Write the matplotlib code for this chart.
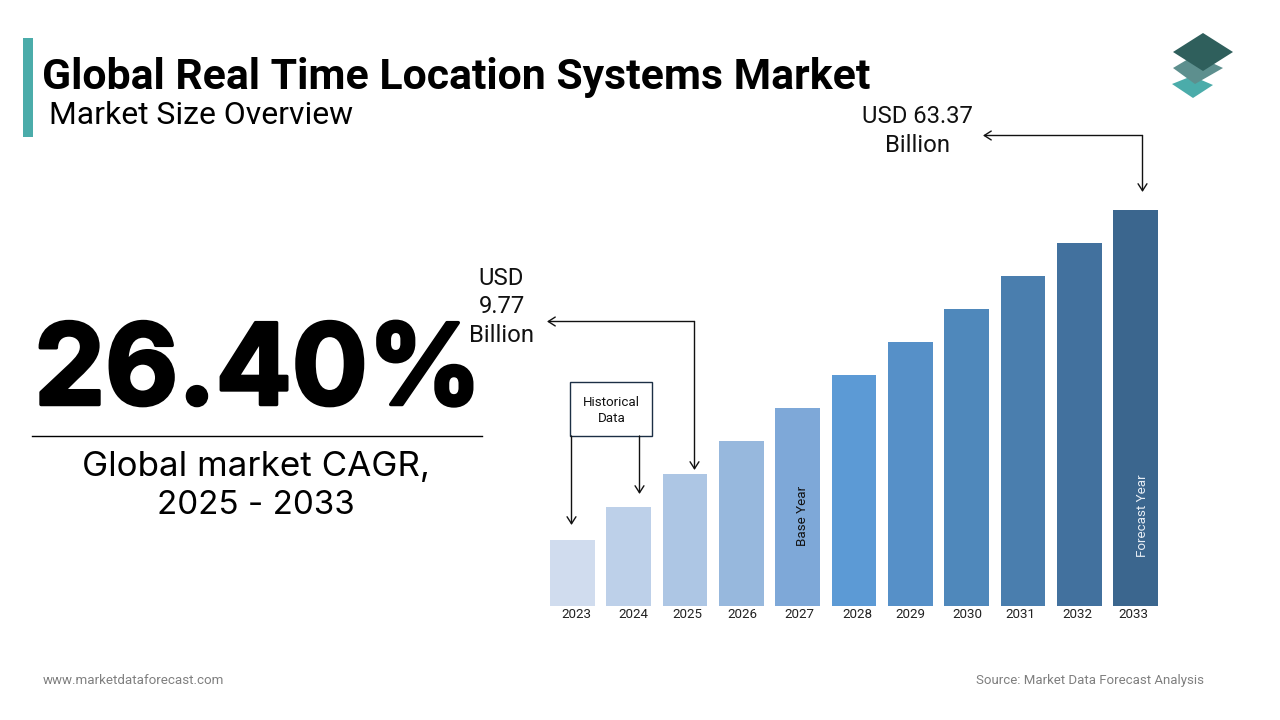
import matplotlib
matplotlib.use("Agg")
import matplotlib.pyplot as plt
from matplotlib.patches import Polygon, Rectangle
import matplotlib.patheffects as pe

plt.rcParams['font.family'] = ['Roboto', 'DejaVu Sans']

years = ['2023','2024','2025','2026','2027','2028','2029','2030','2031','2032','2033']
bar_values = [66, 99, 132, 165, 198, 231, 264, 297, 330, 363, 396]
bar_colors = ['#d0dcee','#bdd0e9','#adc6e4','#97b8dd','#7ea8d8','#5c9ad5',
              '#5690c8','#4f88bb','#4a7eae','#42719e','#3b668e']
label_offsets_px = [4.5, 5, 2, 1.5, 2, 3, 0, 0.5, -3, -2, -2.5]

fig = plt.figure(figsize=(12.8, 7.2), dpi=100, facecolor='white')

ov = fig.add_axes([0, 0, 1, 1], zorder=3)
ov.set_xlim(0, 1280); ov.set_ylim(720, 0); ov.axis('off')
ov.patch.set_alpha(0)

L, R, T, B = 550, 1158, 210, 606
ax = fig.add_axes([L/1280, 1-B/720, (R-L)/1280, (B-T)/720], zorder=2)
x = list(range(len(years)))
ax.bar(x, bar_values, width=0.79, color=bar_colors, linewidth=0)
ax.set_xlim(-0.395, 10.395)
ax.set_ylim(0, 396)
ax.axis('off')
for xi, y, off in zip(x, years, label_offsets_px):
    ax.annotate(y, (xi, 0), xytext=(off*0.72, -8*0.72), textcoords='offset points',
                ha='center', va='center', fontsize=9.6, color='#222222', annotation_clip=False)

# header
ov.add_patch(Rectangle((23, 38), 10, 99, color='#4bacaa', lw=0))
ov.text(42, 77, 'Global Real Time Location Systems Market', fontsize=30.74, fontweight='bold',
        va='center', ha='left', color='#000000')
ov.text(49, 115, 'Market Size Overview', fontsize=22.95, va='center', ha='left', color='#000000')

# left panel
ov.text(258, 375, '26.40%', fontsize=81, fontweight='bold', ha='center', va='center',
        color='#000000', family=['Inter', 'DejaVu Sans'],
        path_effects=[pe.withStroke(linewidth=2.5, foreground='black')])
ov.plot([32, 482], [436, 436], color='#000000', lw=1)
ov.text(256.5, 467, 'Global market CAGR,', fontsize=25.2, ha='center', va='center', family=['Inter','DejaVu Sans'])
ov.text(256, 506, '2025 - 2033', fontsize=23.9, ha='center', va='center', family=['Inter','DejaVu Sans'])

# footer
ov.text(43, 680, 'www.marketdataforecast.com', fontsize=9.67, color='#7f7f7f', ha='left', va='center')
ov.text(1204, 680.6, 'Source: Market Data Forecast Analysis', fontsize=9.58, color='#7f7f7f', ha='right', va='center')

# callouts
ov.text(917.5, 116.5, 'USD 63.37', fontsize=17.2, ha='center', va='center', color='#111111')
ov.text(917.5, 145.5, 'Billion', fontsize=17.2, ha='center', va='center', color='#111111')
ov.text(501.5, 278.5, 'USD', fontsize=17.2, ha='center', va='center', color='#111111')
ov.text(501.5, 306.5, '9.77', fontsize=17.2, ha='center', va='center', color='#111111')
ov.text(501.5, 335.5, 'Billion', fontsize=17.2, ha='center', va='center', color='#111111')

HEAD = dict(arrowstyle='->,head_length=0.5,head_width=0.32', color='#111111', lw=1, shrinkA=0, shrinkB=0)

def arrow(a, b):
    ov.annotate('', xy=b, xytext=a, arrowprops=HEAD)

arrow((1142.5, 135.5), (983, 135.5))
arrow((1142.5, 135.5), (1142.5, 192))
arrow((694.5, 321.5), (547, 321.5))
arrow((694.5, 321.5), (694.5, 470))

# historical box
ov.add_patch(Rectangle((570, 382), 82, 54, facecolor='white', edgecolor='#1c2f45', lw=1))
ov.text(611.5, 403, 'Historical', fontsize=9.6, ha='center', va='center', color='#111111')
ov.text(611.5, 418, 'Data', fontsize=9.6, ha='center', va='center', color='#111111')
arrow((571.5, 436), (571.5, 525))
arrow((639.5, 436), (639.5, 494))

# vertical bar captions
ov.text(803, 516, 'Base Year', rotation=90, fontsize=9.6, ha='center', va='center', color='#111111')
ov.text(1142, 515.5, 'Forecast Year', rotation=90, fontsize=9.6, ha='center', va='center', color='#e8eef5')

# logo
ov.add_patch(Polygon([(1193, 98), (1172, 84), (1192, 76), (1213, 85)], closed=True, color='#4bacaa', lw=0))
ov.add_patch(Polygon([(1195, 84), (1173, 68), (1195, 55), (1223, 68)], closed=True, color='#5d8f8e', lw=0))
ov.add_patch(Polygon([(1203, 71), (1173, 52), (1203, 33), (1233, 52)], closed=True, color='#2f5f5c', lw=0))

fig.savefig('out.png', dpi=100, facecolor='white')
